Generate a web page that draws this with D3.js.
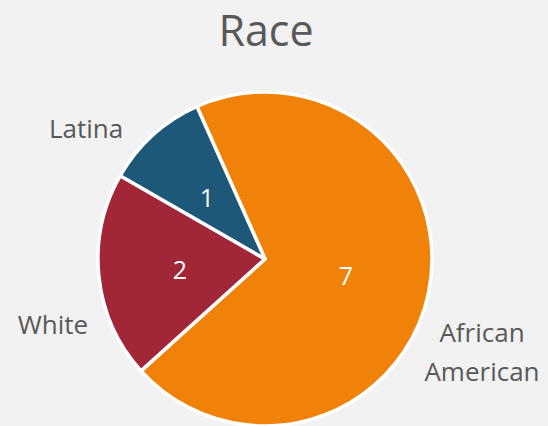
<!DOCTYPE html>
<html>
<head>
<meta charset="utf-8">
<script src="https://cdn.jsdelivr.net/npm/d3@7"></script>
<style>
  html, body { margin: 0; padding: 0; background: #f2f2f2; }
  svg { display: block; font-family: "Open Sans", "Liberation Sans", sans-serif; }
</style>
</head>
<body>
<svg id="chart" width="548" height="426"></svg>
<script>
// data, clockwise from the top-left edge of the orange slice
const categories = ["African American", "White", "Latina"];
const counts = [7, 2, 1];
const colors = ["#f0820a", "#a02638", "#1d5878"];

const W = 548, H = 426;
const cx = 265, cy = 259, radius = 167;

const svg = d3.select("#chart");

svg.append("text")
    .attr("x", 266).attr("y", 46)
    .attr("text-anchor", "middle")
    .attr("font-size", 43)
    .attr("fill", "#595959")
    .text("Race");

const pie = d3.pie().sort(null).value(d => d.v)
    .startAngle(-0.42).endAngle(-0.42 + 2 * Math.PI);
const arcs = pie(categories.map((c, i) => ({ c, v: counts[i], color: colors[i] })));
const arc = d3.arc().innerRadius(0).outerRadius(radius);

const g = svg.append("g").attr("transform", `translate(${cx},${cy})`);

g.selectAll("path.slice")
    .data(arcs).join("path")
    .attr("class", "slice")
    .attr("d", arc)
    .attr("fill", d => d.data.color)
    .attr("stroke", "#fff")
    .attr("stroke-width", 3.5)
    .attr("stroke-linejoin", "round");

// value labels inside the slices
const valuePos = [[81, 17], [-85, 11], [-58, -61]];
g.selectAll("text.val")
    .data(arcs).join("text")
    .attr("class", "val")
    .attr("x", (d, i) => valuePos[i][0])
    .attr("y", (d, i) => valuePos[i][1])
    .attr("text-anchor", "middle")
    .attr("dy", "0.35em")
    .attr("font-size", 25)
    .attr("fill", "#fff")
    .text(d => d.data.v);

// category labels outside
const catLabels = [
  { lines: ["African", "American"], x: 482, y: 342 },
  { lines: ["White"], x: 53, y: 334 },
  { lines: ["Latina"], x: 86, y: 138 }
];
catLabels.forEach(l => {
  const t = svg.append("text")
      .attr("text-anchor", "middle")
      .attr("font-size", 26)
      .attr("fill", "#595959");
  l.lines.forEach((s, j) => {
    t.append("tspan").attr("x", l.x).attr("y", l.y + j * 39).text(s);
  });
});
</script>
</body>
</html>
